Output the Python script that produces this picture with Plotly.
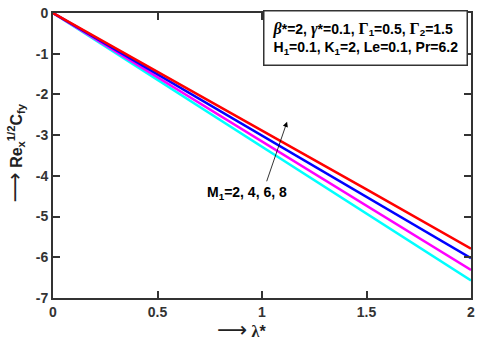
import plotly.graph_objects as go

# lambda* values
lam = [0, 0.5, 1.0, 1.5, 2.0]

# Re_x^{1/2} C_fy for M1 = 8, 6, 4, 2
cfy_m8 = [0, -1.44, -2.88, -4.33, -5.79]
cfy_m6 = [0, -1.50, -3.01, -4.52, -6.02]
cfy_m4 = [0, -1.58, -3.16, -4.73, -6.31]
cfy_m2 = [0, -1.64, -3.29, -4.93, -6.57]

series = [
    ("M1=2", cfy_m2, "#00ffff"),
    ("M1=4", cfy_m4, "#ff00ff"),
    ("M1=6", cfy_m6, "#0000ff"),
    ("M1=8", cfy_m8, "#ff0000"),
]

x_ticks = [0, 0.5, 1, 1.5, 2]
y_ticks = [0, -1, -2, -3, -4, -5, -6, -7]

fig = go.Figure()
for name, vals, color in series:
    fig.add_trace(
        go.Scatter(x=lam, y=vals, mode="lines", name=name,
                   line={"color": color, "width": 2.5})
    )

axis_common = dict(
    showgrid=False, zeroline=False, showline=True, linecolor="#333",
    linewidth=2, mirror="ticks", ticks="inside", ticklen=7, tickwidth=2,
    tickcolor="#333", ticklabeloverflow="allow",
    tickfont={"family": "Arial, Liberation Sans", "size": 14, "color": "#333",
              "weight": "bold"},
)

fig.update_xaxes(range=[0, 2], tickvals=x_ticks,
                 ticktext=["0", "0.5", "1", "1.5", "2"], **axis_common)
fig.update_yaxes(range=[-7, 0], tickvals=y_ticks,
                 ticktext=[str(v) for v in y_ticks], **axis_common)

serif = "font-family:'Liberation Serif','Times New Roman',serif;font-size:16px"
box_text = (
    f"<span style=\"{serif};font-style:italic\">β</span>*=2, "
    f"<span style=\"{serif};font-style:italic\">γ</span>*=0.1, "
    f"<span style=\"{serif}\">Γ</span><sub>1</sub>=0.5, "
    f"<span style=\"{serif}\">Γ</span><sub>2</sub>=1.5<br>"
    "H<sub>1</sub>=0.1, K<sub>1</sub>=2, Le=0.1, Pr=6.2"
)
fig.add_annotation(
    x=0.993, y=1.01, xref="paper", yref="paper", xanchor="right", yanchor="top",
    text=box_text, showarrow=False, align="left",
    font={"family": "Arial, Liberation Sans", "size": 14, "color": "black",
          "weight": "bold"},
    bordercolor="#333", borderwidth=1.5, borderpad=8, bgcolor="white",
)

# M1 arrow and label
fig.add_annotation(
    x=1.12, y=-2.67, ax=1.02, ay=-4.17, xref="x", yref="y", axref="x", ayref="y",
    showarrow=True, arrowhead=2, arrowsize=1.3, arrowwidth=0.8, arrowcolor="black",
    text="",
)
fig.add_annotation(
    x=0.93, y=-4.42, xref="x", yref="y", showarrow=False,
    text="M<sub>1</sub>=2, 4, 6, 8",
    font={"family": "Arial, Liberation Sans", "size": 14, "color": "black",
          "weight": "bold"},
)

# axis titles with arrows
arrow = "<span style=\"font-size:21px;font-weight:normal\">⟶</span>"
fig.add_annotation(
    x=-0.125, y=0.51, xref="paper", yref="paper", showarrow=False, textangle=-90,
    text=f"{arrow} Re<sub>x</sub><sup>1/2</sup>C<sub>fy</sub>",
    font={"family": "Arial, Liberation Sans, DejaVu Sans", "size": 16,
          "color": "#222", "weight": "bold"},
)
fig.add_annotation(
    x=0.45, y=-0.112, xref="paper", yref="paper", showarrow=False,
    xanchor="center", yanchor="middle",
    text=f"{arrow} <span style=\"{serif}\">λ</span>*",
    font={"family": "Arial, Liberation Sans, DejaVu Sans", "size": 16,
          "color": "#222", "weight": "bold"},
)

fig.update_layout(
    width=480, height=343,
    margin={"l": 53, "r": 8, "t": 5, "b": 45},
    plot_bgcolor="white", paper_bgcolor="white",
    showlegend=False,
)

fig.write_html("out.html", config={"displayModeBar": False},
               post_script="document.body.style.margin='0';")
